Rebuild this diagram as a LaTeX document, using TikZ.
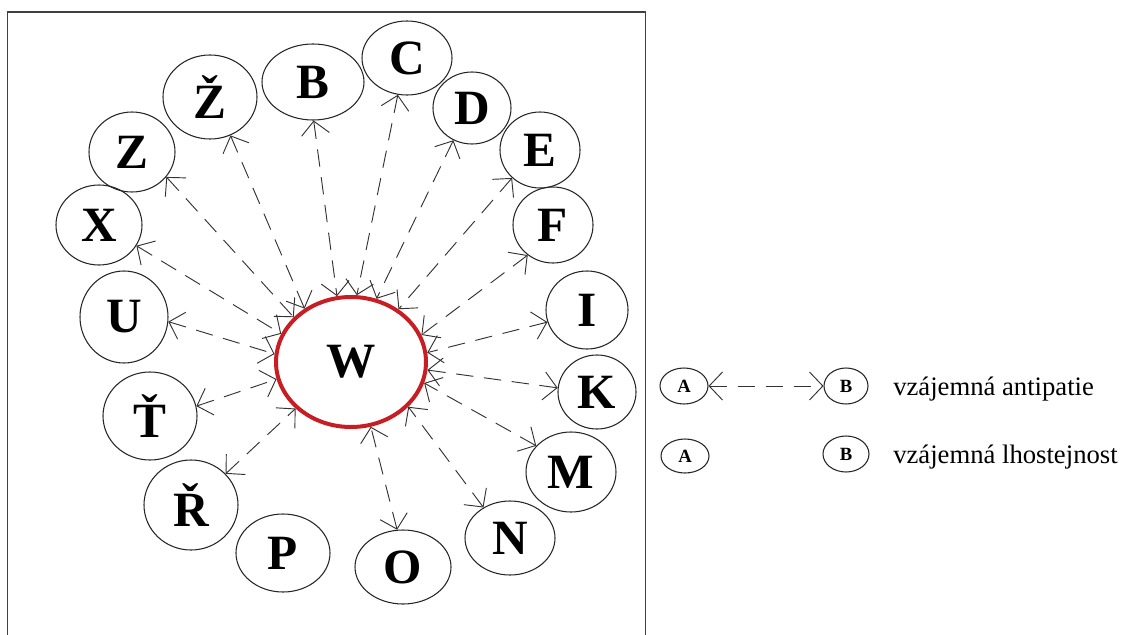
\documentclass[tikz,border=0pt]{standalone}
\usepackage{fontspec}
\setmainfont{Liberation Serif}
\usetikzlibrary{shapes.geometric,arrows.meta}
\begin{document}
\begin{tikzpicture}[x=0.75pt,y=-0.75pt,
  pn/.style 2 args={ellipse, draw=black!85, line width=0.8pt, inner sep=0pt,
    minimum width=#1*1.5pt, minimum height=#2*1.5pt,
    font=\bfseries\fontsize{37}{37}\selectfont},
  ln/.style 2 args={ellipse, draw=black!85, line width=0.8pt, inner sep=0pt,
    minimum width=#1*1.5pt, minimum height=#2*1.5pt,
    font=\bfseries\fontsize{14}{14}\selectfont},
  anti/.style={<->, >={Straight Barb[length=10pt,width=21pt]}, draw=black!80,
    line width=0.7pt, dash pattern=on 13pt off 8pt},
  legtext/.style={anchor=base west, inner sep=0pt, font=\fontsize{20}{20}\selectfont},
  frame/.style={draw=black!75, line width=1.1pt}
]
\useasboundingbox (0,0) rectangle (1121,635);
% frame
\draw[frame] (7.5,635) -- (7.5,12) -- (645.5,12) -- (645.5,635);

% central node
\node[ellipse, draw={rgb,255:red,200;green,30;blue,35}, line width=3pt, inner sep=0pt,
  minimum width=150*0.75pt, minimum height=130*0.75pt,
  font=\bfseries\fontsize{37}{37}\selectfont] (W) at (351,362) {W};

% peripheral nodes
\node[pn={51}{38}] (B)  at (313,82)  {B};
\node[pn={45}{37}] (C)  at (407,58)  {C};
\node[pn={39}{36}] (D)  at (472,108) {D};
\node[pn={40}{38}] (E)  at (540,150) {E};
\node[pn={40}{38}] (F)  at (553,225) {F};
\node[pn={41}{39}] (I)  at (587,310) {I};
\node[pn={39}{37}] (K)  at (597,392) {K};
\node[pn={45}{40}] (M)  at (571,472) {M};
\node[pn={45}{37}] (N)  at (510,538) {N};
\node[pn={48}{37}] (O)  at (403,567) {O};
\node[pn={47}{39}] (P)  at (283,553) {P};
\node[pn={47}{45}] (Rc) at (191,505) {Ř};
\node[pn={47}{44}] (Tc) at (150,416) {Ť};
\node[pn={44}{46}] (U)  at (124,317) {U};
\node[pn={43}{40}] (X)  at (99,225)  {X};
\node[pn={43}{40}] (Z)  at (132,152) {Z};
\node[pn={47}{42}] (Zc) at (210,97)  {Ž};

% connectors
\foreach \n/\a/\b in {B/-89/102, C/-104/85, D/-120/68, E/-135/48.5, F/-130/21,
  I/-163/7.6, K/174/-6, M/143/-16, N/131/-38, O/99/-73, Rc/42/-140, Tc/12/-167,
  U/-6.5/174.5, X/-29/158, Z/-36/142, Zc/-62/131}
  \draw[anti] (\n.\a) -- (W.\b);

% legend
\node[ln={24}{18}] (A1) at (684,386) {A};
\node[ln={22}{18}] (B1) at (846,386) {B};
\node[ln={24}{17}] (A2) at (685,456) {A};
\node[ln={23}{18}] (B2) at (846,454) {B};
\draw[anti] (A1.east) -- (B1.west);
\node[legtext] (t1) at (893,395) {vzájemná antipatie};
\node[legtext] (t2) at (893,463) {vzájemná lhostejnost};
\end{tikzpicture}
\end{document}
